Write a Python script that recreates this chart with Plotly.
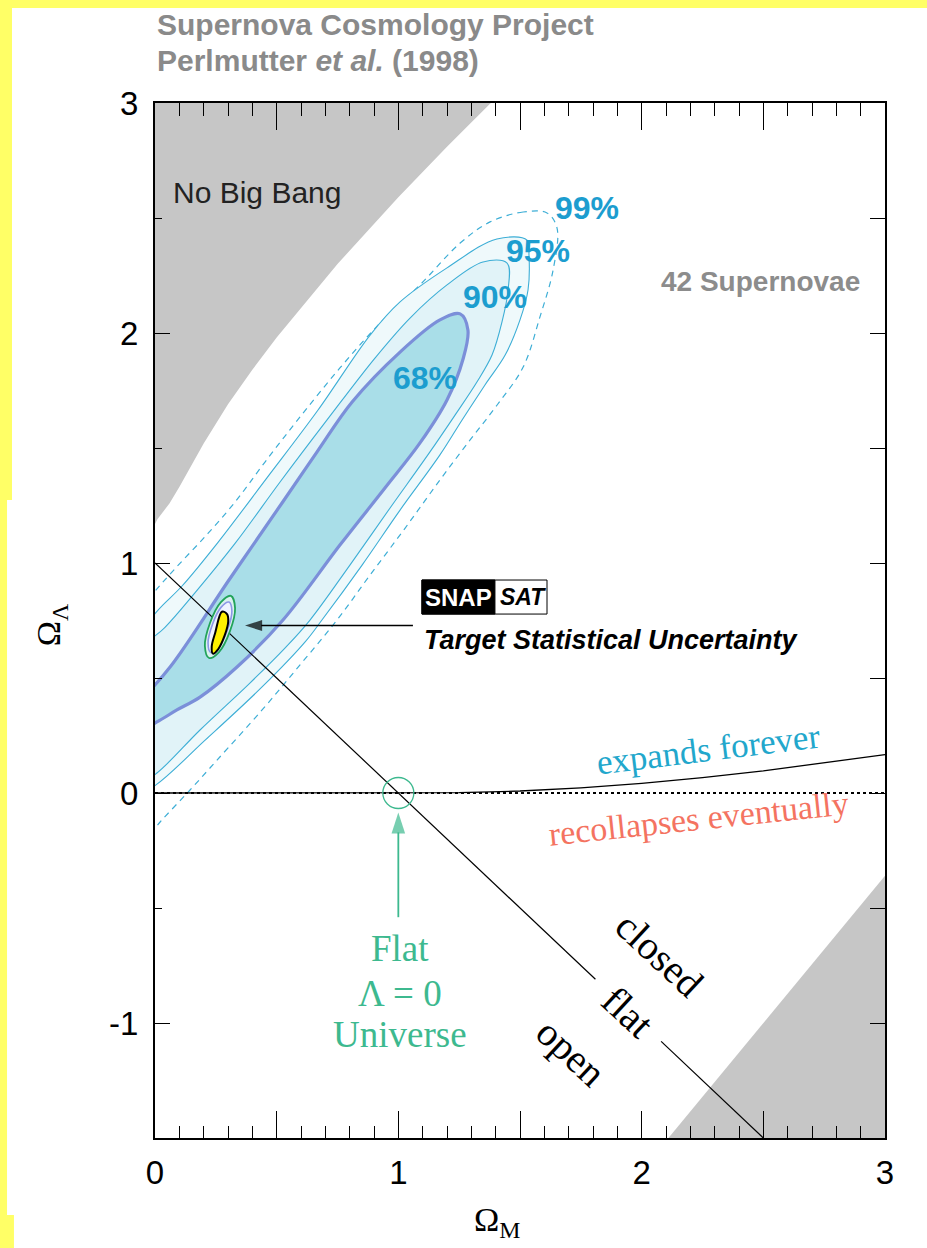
import plotly.graph_objects as go

# ---------------- data (Omega_M, Omega_Lambda) ----------------
# edge of the "No Big Bang" region
nbb_om = [0.0, 0.01, 0.03, 0.06, 0.1, 0.2, 0.3, 0.4, 0.5, 0.75, 1.0, 1.2, 1.38]
nbb_ol = [1.17, 1.19, 1.22, 1.26, 1.33, 1.52, 1.69, 1.84, 1.98, 2.30, 2.59, 2.81, 3.0]

# edge of the excluded region at lower right
lr_om = [2.11, 3.0]
lr_ol = [-1.5, -0.36]

# expands forever / recollapses eventually boundary
exp_om = [0.0, 1.0, 1.25, 1.5, 1.75, 2.0, 2.25, 2.5, 2.75, 3.0]
exp_ol = [0.0, 0.0, 0.0015, 0.0086, 0.0224, 0.0419, 0.0665, 0.096, 0.13, 0.167]

# flat universe line (gap left for its label)
flat_om = [0.0, 1.81, None, 2.08, 2.5]
flat_ol = [1.0, -0.81, None, -1.08, -1.5]

# confidence contours from 42 supernovae
c68_om = [-0.062, 0.062, 0.304, 0.522, 0.666, 0.810, 1.007, 1.171, 1.254, 1.286, 1.266,
          1.200, 1.089, 0.945, 0.760, 0.526, 0.337, 0.185, 0.090, 0.008, -0.103, -0.144]
c68_ol = [0.404, 0.548, 0.926, 1.261, 1.483, 1.700, 1.917, 2.057, 2.083, 2.013, 1.887,
          1.709, 1.522, 1.326, 1.078, 0.752, 0.548, 0.417, 0.361, 0.309, 0.252, 0.339]

c90_om = [1.447, 1.348, 1.200, 1.048, 0.904, 0.707, 0.514, 0.329, 0.164, 0.041, -0.082,
          -0.144, -0.103, 0.008, 0.185, 0.390, 0.534, 0.637, 0.801, 0.966, 1.130, 1.233,
          1.323, 1.385, 1.426, 1.451]
c90_ol = [2.304, 2.309, 2.209, 2.065, 1.891, 1.622, 1.352, 1.085, 0.870, 0.720, 0.600,
          0.317, 0.013, 0.087, 0.274, 0.478, 0.630, 0.752, 0.991, 1.239, 1.483, 1.643,
          1.787, 1.904, 2.048, 2.187]

c95_om = [1.529, 1.405, 1.200, 1.007, 0.884, 0.670, 0.460, 0.259, 0.111, 0.008, -0.082,
          -0.164, -0.123, -0.008, 0.206, 0.440, 0.617, 0.686, 0.851, 1.007, 1.171, 1.262,
          1.356, 1.439, 1.500, 1.533, 1.537]
c95_ol = [2.404, 2.409, 2.283, 2.135, 1.991, 1.665, 1.370, 1.090, 0.900, 0.790, 0.660,
          0.317, -0.030, 0.026, 0.230, 0.461, 0.657, 0.752, 0.991, 1.230, 1.470, 1.622,
          1.774, 1.904, 2.057, 2.187, 2.339]

c99_om = [1.611, 1.513, 1.377, 1.254, 1.089, 0.925, 0.760, 0.596, 0.452, 0.329, 0.206,
          0.082, -0.021, -0.123, -0.226, -0.164, -0.062, 0.021, 0.144, 0.255, 0.440,
          0.596, 0.748, 0.884, 1.028, 1.171, 1.295, 1.406, 1.513, 1.582, 1.636, 1.652, 1.611]
c99_ol = [2.522, 2.526, 2.483, 2.391, 2.209, 2.043, 1.848, 1.635, 1.439, 1.265, 1.115,
          0.975, 0.850, 0.700, 0.317, -0.161, -0.226, -0.126, 0.013, 0.143, 0.361,
          0.557, 0.752, 0.948, 1.152, 1.361, 1.535, 1.687, 1.852, 2.070, 2.274, 2.457, 2.522]

# SNAP target statistical uncertainty contours
snap_out_om = [0.312, 0.329, 0.308, 0.263, 0.222, 0.205, 0.226, 0.271, 0.312]
snap_out_ol = [0.857, 0.804, 0.704, 0.613, 0.587, 0.639, 0.739, 0.830, 0.857]
snap_mid_om = [0.304, 0.316, 0.298, 0.262, 0.229, 0.218, 0.236, 0.272, 0.304]
snap_mid_ol = [0.830, 0.791, 0.710, 0.635, 0.611, 0.652, 0.733, 0.808, 0.830]
snap_in_om = [0.296, 0.301, 0.286, 0.260, 0.238, 0.233, 0.248, 0.275, 0.296]
snap_in_ol = [0.778, 0.747, 0.684, 0.626, 0.606, 0.636, 0.699, 0.788, 0.778]

flat_lambda0 = (1.0, 0.0)

# pointer arrows: (tail, tip)
snap_arrow_om = [1.06, 0.37]
snap_arrow_ol = [0.728, 0.728]
flat_arrow_om = [1.0, 1.0]
flat_arrow_ol = [-0.54, -0.085]

x_label_ticks = [0, 1, 2, 3]
x_label_text = ["0", "1", "2", "3"]
x_half_ticks = [0.5, 1.5, 2.5]
x_top_ticks = [0, 0.5, 1, 1.5, 2, 2.5, 3]
y_ticks = [-1, 0, 1, 2, 3]
y_ticktext = ["-1", "0", "1", "2", "3"]
y_right_ticks = [-1.5, -1, -0.5, 0, 0.5, 1, 1.5, 2, 2.5, 3]

# ---------------- style ----------------
SANS = "Liberation Sans, Arial, Helvetica, sans-serif"
SERIF = "Liberation Serif, Times New Roman, serif"
GRAY_REGION = "#C6C6C6"
C68_FILL = "#A9DEE8"
C90_FILL = "#E1F3F8"
C95_FILL = "#EFF9FB"
C68_LINE = "#7B8FD9"
CYAN_LINE = "#3DAED6"
LABEL_CYAN = "#1C9DCF"
TEAL = "#3DB98F"
SALMON = "#F47361"
BORDER_YELLOW = "#FFFF66"

fig = go.Figure()

# No Big Bang region
fig.add_trace(go.Scatter(
    x=[0.0] + nbb_om + [0.0], y=[3.0] + nbb_ol + [3.0],
    fill="toself", fillcolor=GRAY_REGION, line=dict(width=0), mode="lines",
    hoverinfo="skip"))
# lower right region
fig.add_trace(go.Scatter(
    x=lr_om + [3.0, lr_om[0]], y=lr_ol + [-1.5, lr_ol[0]],
    fill="toself", fillcolor=GRAY_REGION, line=dict(width=0), mode="lines",
    hoverinfo="skip"))

# confidence regions, outermost first
fig.add_trace(go.Scatter(x=c99_om, y=c99_ol, mode="lines", line_shape="spline",
                         line=dict(color=CYAN_LINE, width=1.2, dash="6px,5px"),
                         hoverinfo="skip"))
fig.add_trace(go.Scatter(x=c95_om + [c95_om[0]], y=c95_ol + [c95_ol[0]], mode="lines",
                         line_shape="spline", fill="toself", fillcolor=C95_FILL,
                         line=dict(color=CYAN_LINE, width=1.1), hoverinfo="skip"))
fig.add_trace(go.Scatter(x=c90_om + [c90_om[0]], y=c90_ol + [c90_ol[0]], mode="lines",
                         line_shape="spline", fill="toself", fillcolor=C90_FILL,
                         line=dict(color=CYAN_LINE, width=1.1), hoverinfo="skip"))
fig.add_trace(go.Scatter(x=c68_om + [c68_om[0]], y=c68_ol + [c68_ol[0]], mode="lines",
                         line_shape="spline", fill="toself", fillcolor=C68_FILL,
                         line=dict(color=C68_LINE, width=3.2), hoverinfo="skip"))

# Omega_Lambda = 0 reference (dotted) and expansion boundary
fig.add_trace(go.Scatter(x=[0, 3], y=[0, 0], mode="lines",
                         line=dict(color="black", width=1.8, dash="3px,3px"),
                         hoverinfo="skip"))
fig.add_trace(go.Scatter(x=exp_om, y=exp_ol, mode="lines",
                         line=dict(color="black", width=1.3), hoverinfo="skip"))
# flat universe line
fig.add_trace(go.Scatter(x=flat_om, y=flat_ol, mode="lines",
                         line=dict(color="black", width=1.2), hoverinfo="skip"))

# SNAP contours
fig.add_trace(go.Scatter(x=snap_out_om, y=snap_out_ol, mode="lines", line_shape="spline",
                         fill="toself", fillcolor="#D9F1EE",
                         line=dict(color="#22A35A", width=1.8), hoverinfo="skip"))
fig.add_trace(go.Scatter(x=snap_mid_om, y=snap_mid_ol, mode="lines", line_shape="spline",
                         fill="toself", fillcolor="#EEF3FF",
                         line=dict(color="#8C96E6", width=1.6), hoverinfo="skip"))
fig.add_trace(go.Scatter(x=snap_in_om, y=snap_in_ol, mode="lines", line_shape="spline",
                         fill="toself", fillcolor="#FFF000",
                         line=dict(color="black", width=2), hoverinfo="skip"))

# flat, Lambda = 0 universe marker
fig.add_trace(go.Scatter(x=[flat_lambda0[0]], y=[flat_lambda0[1]], mode="markers",
                         marker=dict(symbol="circle-open", size=31,
                                     line=dict(color=TEAL, width=1.3), color=TEAL),
                         hoverinfo="skip"))

# pointer arrows
fig.add_trace(go.Scatter(x=snap_arrow_om, y=snap_arrow_ol, mode="lines+markers",
                         line=dict(color="black", width=1.5),
                         marker=dict(symbol=["circle", "arrow"], size=[0, 18],
                                     angleref="previous", color="black",
                                     line=dict(width=0)),
                         hoverinfo="skip"))
fig.add_trace(go.Scatter(x=flat_arrow_om, y=flat_arrow_ol, mode="lines+markers",
                         line=dict(color=TEAL, width=1.8),
                         marker=dict(symbol=["circle", "arrow"], size=[0, 22],
                                     angleref="previous", color=TEAL,
                                     line=dict(width=0)),
                         hoverinfo="skip"))

# traces on the extra axes so they are drawn
fig.add_trace(go.Scatter(x=[None], y=[None], xaxis="x2", yaxis="y2", showlegend=False))
fig.add_trace(go.Scatter(x=[None], y=[None], xaxis="x3", yaxis="y", showlegend=False))

ann = []


def label(text, x, y, size, color, family=SANS, angle=0, **kw):
    ann.append(dict(text=text, x=x, y=y, xref="x", yref="y", showarrow=False,
                    font=dict(size=size, color=color, family=family),
                    textangle=angle, xanchor="center", yanchor="middle", **kw))


label("No Big Bang", 0.419, 2.609, 30, "#222222")
label("<b>42 Supernovae</b>", 2.487, 2.222, 28, "#8C8C8C")
label("<b>68%</b>", 1.110, 1.804, 32, LABEL_CYAN)
label("<b>90%</b>", 1.397, 2.157, 32, LABEL_CYAN)
label("<b>95%</b>", 1.574, 2.357, 32, LABEL_CYAN)
label("<b>99%</b>", 1.776, 2.543, 32, LABEL_CYAN)
label("expands forever", 2.273, 0.187, 35, "#22A7CC", SERIF, -7)
label("recollapses eventually", 2.232, -0.109, 34, SALMON, SERIF, -6)
label("closed", 2.072, -0.704, 40, "black", SERIF, 43)
label("flat", 1.940, -0.952, 40, "black", SERIF, 43)
label("open", 1.710, -1.130, 40, "black", SERIF, 43)
label("Flat", 1.007, -0.674, 37, TEAL, SERIF)
label("Λ = 0", 1.007, -0.870, 37, TEAL, SERIF)
label("Universe", 1.007, -1.052, 37, TEAL, SERIF)
label("<b>SNAP</b>", 1.247, 0.852, 24, "white")
label("<b><i>SAT</i></b>", 1.512, 0.852, 23, "black")
ann.append(dict(text="<b><i>Target Statistical Uncertainty</i></b>", x=1.097, y=0.665,
                xref="x", yref="y", showarrow=False, xanchor="left", yanchor="middle",
                font=dict(size=27, color="black", family=SANS)))

# titles
ann.append(dict(text="<b>Supernova Cosmology Project</b>", x=0.0, y=1.0754,
                xref="paper", yref="paper", showarrow=False, xanchor="left",
                yanchor="middle", font=dict(size=30, color="#8A8A8A", family=SANS)))
ann.append(dict(text="<b>Perlmutter <i>et al.</i> (1998)</b>", x=0.0, y=1.0406,
                xref="paper", yref="paper", showarrow=False, xanchor="left",
                yanchor="middle", font=dict(size=30, color="#8A8A8A", family=SANS)))
# axis titles
ann.append(dict(text="Ω<sub>M</sub>", x=0.4685, y=-0.0812, xref="paper", yref="paper",
                showarrow=False, xanchor="center", yanchor="middle",
                font=dict(size=34, color="black", family=SERIF)))
ann.append(dict(text="Ω<sub>Λ</sub>", x=-0.142, y=0.4957, xref="paper", yref="paper",
                showarrow=False, xanchor="center", yanchor="middle", textangle=-90,
                font=dict(size=34, color="black", family=SERIF)))

shapes = [
    # yellow page border (top band and left band)
    dict(type="rect", xref="paper", yref="paper", x0=-0.3, x1=1.3, y0=1.0918, y1=1.2,
         fillcolor=BORDER_YELLOW, line=dict(width=0), layer="below"),
    dict(type="rect", xref="paper", yref="paper", x0=-0.3, x1=-0.1959, y0=0.6164, y1=1.2,
         fillcolor=BORDER_YELLOW, line=dict(width=0), layer="below"),
    dict(type="rect", xref="paper", yref="paper", x0=-0.3, x1=-0.2027, y0=-0.0744,
         y1=0.6164, fillcolor=BORDER_YELLOW, line=dict(width=0), layer="below"),
    dict(type="rect", xref="paper", yref="paper", x0=-0.3, x1=-0.1932, y0=-0.2, y1=-0.0744,
         fillcolor=BORDER_YELLOW, line=dict(width=0), layer="below"),
    # SNAP/SAT logo boxes
    dict(type="rect", xref="x", yref="y", x0=1.097, x1=1.611, y0=0.778, y1=0.926,
         fillcolor="white", line=dict(color="black", width=1)),
    dict(type="rect", xref="x", yref="y", x0=1.097, x1=1.397, y0=0.778, y1=0.926,
         fillcolor="black", line=dict(color="black", width=1)),
]

tickfont = dict(size=33, color="black", family=SANS)
fig.update_layout(
    width=927, height=1248,
    margin=dict(l=155, r=42, t=103, b=110),
    paper_bgcolor="white", plot_bgcolor="white",
    showlegend=False,
    annotations=ann, shapes=shapes,
    xaxis=dict(range=[0, 3], tickvals=x_label_ticks, ticktext=x_label_text,
               ticks="inside", ticklen=27, tickwidth=1.3, tickcolor="black",
               minor=dict(dtick=0.1, tick0=0, ticks="inside", ticklen=12, tickwidth=1.2,
                          tickcolor="black"),
               showline=True, linewidth=2, linecolor="black", showgrid=False,
               zeroline=False, tickfont=tickfont, ticklabelstandoff=4),
    xaxis3=dict(range=[0, 3], overlaying="x", side="bottom", anchor="y",
                tickvals=x_half_ticks, showticklabels=False, ticks="inside", ticklen=27,
                tickwidth=1.3, tickcolor="black", showline=False, showgrid=False,
                zeroline=False),
    yaxis=dict(range=[-1.5, 3], tickvals=y_ticks, ticktext=y_ticktext, ticks="inside",
               ticklen=15, tickwidth=1.3, tickcolor="black",
               minor=dict(dtick=0.5, tick0=0, ticks="inside", ticklen=7, tickwidth=1.2,
                          tickcolor="black"),
               showline=True, linewidth=2, linecolor="black", showgrid=False,
               zeroline=False, tickfont=tickfont, ticklabelstandoff=8),
    xaxis2=dict(range=[0, 3], overlaying="x", side="top", anchor="y", tickvals=x_top_ticks,
                showticklabels=False, ticks="inside", ticklen=27, tickwidth=1.3,
                tickcolor="black",
                minor=dict(dtick=0.1, tick0=0, ticks="inside", ticklen=13, tickwidth=1.2,
                           tickcolor="black"),
                showline=True, linewidth=2, linecolor="black", showgrid=False,
                zeroline=False),
    yaxis2=dict(range=[-1.5, 3], overlaying="y", side="right", anchor="x",
                tickvals=y_right_ticks, showticklabels=False, ticks="inside", ticklen=15,
                tickwidth=1.3, tickcolor="black", showline=True, linewidth=2,
                linecolor="black", showgrid=False, zeroline=False),
)

fig.write_html("out.html")
